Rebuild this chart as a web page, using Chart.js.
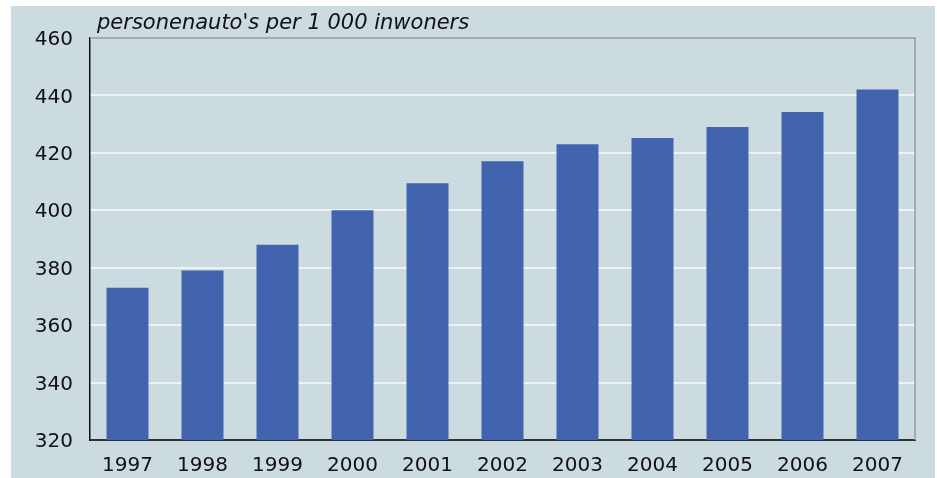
<!DOCTYPE html>
<html>
<head>
<meta charset="utf-8">
<script src="https://cdn.jsdelivr.net/npm/chart.js@4"></script>
<style>
	html, body { margin: 0; padding: 0; background: #fff; }
	#wrap { width: 937px; height: 478px; position: relative; }
</style>
</head>
<body>
<div id="wrap"><canvas id="canvas"></canvas></div>
<script>
const years = ['1997', '1998', '1999', '2000', '2001', '2002', '2003', '2004', '2005', '2006', '2007'];
const carsPer1000 = [373, 379, 388, 400, 409.4, 417.1, 423, 425.2, 429, 434.2, 442.1];
const yTicks = [320, 340, 360, 380, 400, 420, 440, 460];
const unitLabel = "personenauto's per 1 000 inwoners";

(() => {
	const ctx = document.getElementById('canvas').getContext('2d');

	// panel background, title and the grey top/right frame
	const panelPlugin = {
		id: 'panel',
		beforeDraw(c) {
			const g = c.ctx;
			g.save();
			g.fillStyle = '#ccdbe0';
			g.fillRect(11, 6, 924, 472);
			g.restore();
		},
		afterDraw(c) {
			const g = c.ctx;
			const a = c.chartArea;
			g.save();
			g.strokeStyle = '#9a9c9d';
			g.lineWidth = 1.5;
			g.beginPath();
			g.moveTo(a.left, a.top);
			g.lineTo(a.right, a.top);
			g.lineTo(a.right, a.bottom);
			g.stroke();
			g.fillStyle = '#111';
			g.font = 'italic 21px "DejaVu Sans", Verdana, sans-serif';
			g.textBaseline = 'alphabetic';
			g.fillText(unitLabel, 97, 29);
			g.restore();
		}
	};

	new Chart(ctx, {
		type: 'bar',
		data: {
			labels: years,
			datasets: [{
				data: carsPer1000,
				backgroundColor: '#4263ae',
				barPercentage: 0.56,
				categoryPercentage: 1
			}]
		},
		options: {
			responsive: true,
			maintainAspectRatio: false,
			animation: false,
			layout: { padding: { left: 0, right: 22, top: 38, bottom: 0 } },
			plugins: { legend: { display: false }, tooltip: { enabled: false } },
			scales: {
				x: {
					grid: { display: false, drawTicks: false },
					border: { color: '#333', width: 2 },
					ticks: { color: '#111', font: { family: 'DejaVu Sans', size: 20 }, padding: 14 },
					afterFit(s) { s.height = 38; }
				},
				y: {
					min: 320,
					max: 460,
					afterBuildTicks(s) { s.ticks = yTicks.map(v => ({ value: v })); },
					grid: {
						drawTicks: false,
						lineWidth: 2,
						color: (c) => (c.tick && (c.tick.value === 320 || c.tick.value === 460)) ? 'rgba(0,0,0,0)' : '#eef4f6'
					},
					border: { color: '#111', width: 1.5 },
					ticks: { color: '#111', font: { family: 'DejaVu Sans', size: 20 }, padding: 17, labelOffset: 2 },
					afterFit(s) { s.width = 90; }
				}
			}
		},
		plugins: [panelPlugin]
	});
})();
</script>
</body>
</html>
